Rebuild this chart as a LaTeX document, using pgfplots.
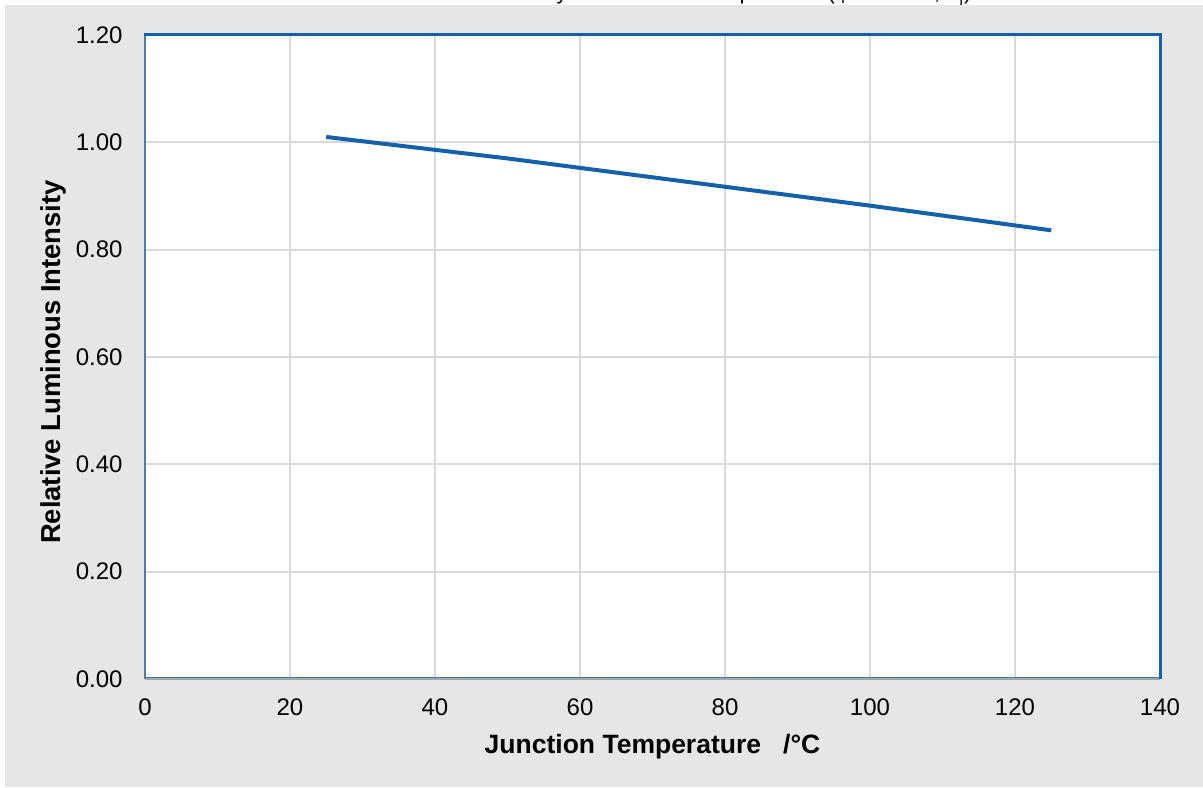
\documentclass[border=0pt]{standalone}
\usepackage{pgfplots}
\pgfplotsset{compat=1.18}
\usepackage{fontspec}
\setmainfont{Liberation Sans}
\definecolor{lineblue}{RGB}{21,96,170}
\definecolor{bggray}{RGB}{230,230,230}
\definecolor{gridgray}{RGB}{217,217,217}
\definecolor{botgray}{RGB}{166,166,166}
\begin{document}
\begin{tikzpicture}
\clip (-72.5pt,-54pt) rectangle (529pt,339.5pt);
\fill[white] (-72.5pt,-54pt) rectangle (529pt,339.5pt);
\node[anchor=base, font=\fontsize{11}{13}\selectfont] at (245pt,339.5pt) {Relative Luminous Intensity vs. Junction Temperature (I\textsubscript{F}=350mA, T\textsubscript{j})};
\fill[bggray] (-70pt,-54pt) rectangle (529pt,337pt);
\begin{axis}[
  at={(0,0)}, anchor=south west,
  scale only axis, width=507.5pt, height=322pt,
  xmin=0, xmax=140, ymin=0, ymax=1.2,
  xtick={0,20,...,140}, ytick={0,0.2,...,1.2},
  grid=major, major grid style={gridgray, line width=1pt},
  major tick length=0pt,
  axis line style={draw=none},
  axis background/.style={fill=white},
  /pgf/number format/assume math mode=true,
  ticklabel style={font=\fontsize{12}{14}\selectfont},
  yticklabel style={inner sep=0pt, anchor=east, xshift=-11pt,
    /pgf/number format/.cd, fixed, fixed zerofill, precision=2},
  xticklabel style={inner sep=0pt, anchor=north, yshift=-9.5pt},
  xlabel={Junction Temperature\ \ \ /°C},
  ylabel={Relative Luminous Intensity},
  xlabel style={font=\bfseries\fontsize{13.25}{15}\selectfont, at={(axis description cs:0.5,0)}, anchor=base, yshift=-37pt},
  ylabel style={font=\bfseries\fontsize{13.7}{15}\selectfont, at={(axis description cs:0,0.5)}, anchor=center, rotate=0, yshift=46pt, xshift=-2.5pt},
  clip=false,
]
\addplot[lineblue, line width=2pt] coordinates {(25,1.010) (50,0.970) (75,0.926) (100,0.882) (125,0.836)};
\draw[botgray, line width=1.2pt] (rel axis cs:0,0) -- (rel axis cs:1,0);
\draw[lineblue!70!botgray, line width=0.4pt] ([yshift=0.6pt]rel axis cs:0,0) -- ([yshift=0.6pt]rel axis cs:1,0);
\draw[lineblue!60!botgray, line width=0.9pt] (rel axis cs:0,0) -- (rel axis cs:0,1);
\draw[lineblue, line width=1.5pt] ([xshift=-0.4pt]rel axis cs:0,1) -- (rel axis cs:1,1) -- (rel axis cs:1,0);
\end{axis}
\end{tikzpicture}
\end{document}
